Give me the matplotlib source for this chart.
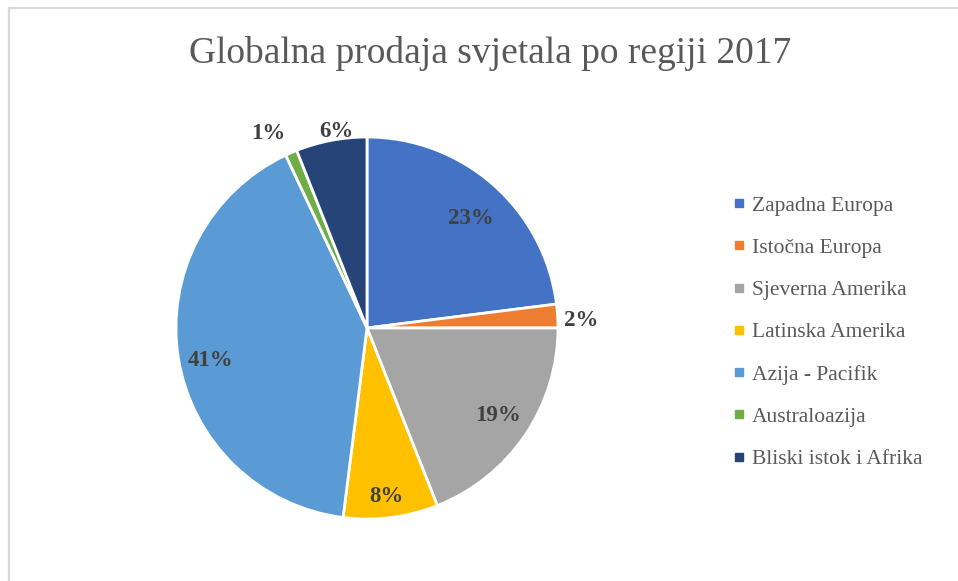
import matplotlib
matplotlib.use("Agg")
import matplotlib.pyplot as plt
from matplotlib.lines import Line2D
import numpy as np

categories = ["Zapadna Europa", "Istočna Europa", "Sjeverna Amerika", "Latinska Amerika",
              "Azija - Pacifik", "Australoazija", "Bliski istok i Afrika"]
values = [23, 2, 19, 8, 41, 1, 6]
colors = ["#4472C4", "#ED7D31", "#A5A5A5", "#FFC000", "#5B9BD5", "#70AD47", "#264478"]
title = "Globalna prodaja svjetala po regiji 2017"
# label placement (style): radial distance and angular nudge in degrees
label_dist = [0.79, 1.12, 0.826, 0.89, 0.834, 1.14, 1.043]
label_nudge = [-2.3, -1.5, 0.3, -0.8, 2.6, 3.6, -2.1]

plt.rcParams["font.family"] = ["Liberation Serif", "DejaVu Serif"]

W, H = 958, 581
fig = plt.figure(figsize=(W / 100, H / 100), dpi=100)
fig.patch.set_facecolor("white")

cx, cy, r = 367, 328, 191
ax = fig.add_axes([(cx - r) / W, (H - cy - r) / H, 2 * r / W, 2 * r / H])
wedges, _ = ax.pie(values, colors=colors, startangle=90, counterclock=False, radius=1,
                   wedgeprops=dict(edgecolor="white", linewidth=2))
ax.set_xlim(-1, 1)
ax.set_ylim(-1, 1)
ax.set_aspect("equal")
ax.axis("off")

total = sum(values)
cum = 0
for v, d, n in zip(values, label_dist, label_nudge):
    mid = cum + v / 2
    ang = np.deg2rad(90 - 360 * mid / total + n)
    ax.text(d * np.cos(ang), d * np.sin(ang), f"{v}%", ha="center", va="center",
            fontsize=16.5, fontweight="bold", color="#404040")
    cum += v

fig.text(490 / W, 1 - 63 / H, title, ha="center", va="baseline", fontsize=27, color="#595959")

handles = [Line2D([], [], marker="s", linestyle="none", markersize=5.5,
                  markerfacecolor=c, markeredgecolor=c) for c in colors]
fig.legend(handles, categories, loc="upper left", bbox_to_anchor=(725 / W, 1 - 187 / H),
           frameon=False, fontsize=15.5, labelcolor="#595959", labelspacing=1.03,
           handlelength=0.5, handletextpad=0.35, borderaxespad=0)

fig.add_artist(Line2D([9 / W, 1], [1 - 8 / H, 1 - 8 / H], color="#d9d9d9", lw=1.6))
fig.add_artist(Line2D([9 / W, 9 / W], [0, 1 - 8 / H], color="#d9d9d9", lw=1.6))

fig.savefig("out.png", dpi=100, facecolor="white")
